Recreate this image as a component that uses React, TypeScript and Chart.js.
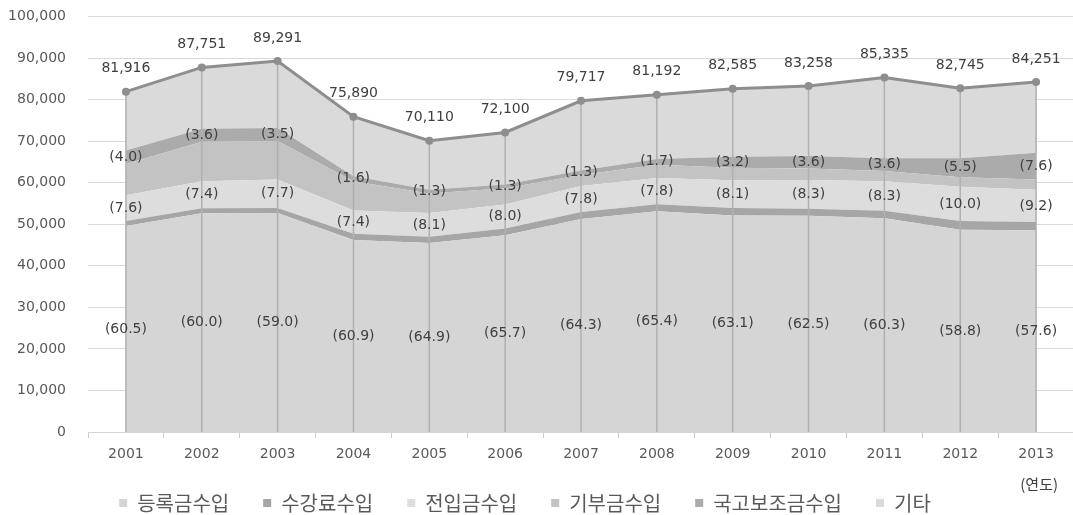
import { useEffect, useRef } from "react";
import { Chart, registerables } from "chart.js";

Chart.register(...registerables);

// 연도
const years = ["2001", "2002", "2003", "2004", "2005", "2006", "2007", "2008", "2009", "2010", "2011", "2012", "2013"];

// 총수입
const totalIncome = [81916, 87751, 89291, 75890, 70110, 72100, 79717, 81192, 82585, 83258, 85335, 82745, 84251];

// 항목별 수입
const tuitionIncome = [49559, 52651, 52682, 46217, 45501, 47370, 51258, 53100, 52111, 52036, 51457, 48654, 48529];
const lectureFeeIncome = [1200, 1200, 1200, 1500, 1500, 1600, 1700, 1700, 1800, 1700, 1800, 2100, 2000];
const transferIncome = [6226, 6494, 6875, 5616, 5679, 5768, 6218, 6333, 6689, 6910, 7083, 8275, 7751];
const donationIncome = [7500, 9500, 9300, 7000, 4700, 3900, 2700, 3200, 3000, 2800, 2500, 2300, 2500];
const subsidyIncome = [3277, 3159, 3125, 1214, 911, 937, 1036, 1380, 2643, 2997, 3072, 4551, 6403];
const otherIncome = [14154, 14747, 16109, 14343, 11819, 12525, 16805, 15479, 16342, 16815, 19423, 16865, 17068];

// 비중(%)
const tuitionShare = [60.5, 60.0, 59.0, 60.9, 64.9, 65.7, 64.3, 65.4, 63.1, 62.5, 60.3, 58.8, 57.6];
const transferShare = [7.6, 7.4, 7.7, 7.4, 8.1, 8.0, 7.8, 7.8, 8.1, 8.3, 8.3, 10.0, 9.2];
const subsidyShare = [4.0, 3.6, 3.5, 1.6, 1.3, 1.3, 1.3, 1.7, 3.2, 3.6, 3.6, 5.5, 7.6];

const yTicks = [0, 10000, 20000, 30000, 40000, 50000, 60000, 70000, 80000, 90000, 100000];

const NUM_FONT = '"DejaVu Sans", "Noto Sans", sans-serif';
const KR_FONT = '"Noto Sans CJK KR", "Noto Sans", sans-serif';

const CANVAS_W = 1106;
const CANVAS_H = 523;
const PLOT_BOTTOM = 432;
const LEGEND_FONT = 20;
const LEGEND_GAP = 34;

function area(label: string, data: number[], color: string, fill: string | boolean) {
  return {
    label,
    data,
    stack: "income",
    fill,
    backgroundColor: color,
    borderColor: color,
    borderWidth: 0,
    pointRadius: 0,
    pointHoverRadius: 0,
    tension: 0,
  };
}

// 각 연도 지점에서 바닥까지 내려오는 세로선
const dropLinePlugin = {
  id: "dropLines",
  beforeDatasetDraw(chart: any, args: any) {
    if (args.index !== 0) return;
    const meta = chart.getDatasetMeta(0);
    const { ctx, chartArea } = chart;
    ctx.save();
    ctx.strokeStyle = "#b0b0b0";
    ctx.lineWidth = 1.5;
    meta.data.forEach((pt: any) => {
      ctx.beginPath();
      ctx.moveTo(pt.x, pt.y);
      ctx.lineTo(pt.x, chartArea.bottom);
      ctx.stroke();
    });
    ctx.restore();
  },
};

// 총액 및 비중 표시
const valueLabelPlugin = {
  id: "valueLabels",
  afterDatasetsDraw(chart: any) {
    const { ctx } = chart;
    const yScale = chart.scales.y;
    ctx.save();
    ctx.font = `14px ${NUM_FONT}`;
    ctx.textAlign = "center";
    ctx.textBaseline = "middle";
    ctx.fillStyle = "#404040";

    const totalMeta = chart.getDatasetMeta(0);
    totalMeta.data.forEach((pt: any, i: number) => {
      ctx.fillText(totalIncome[i].toLocaleString("en-US"), pt.x, pt.y - 23);
    });

    const bands: [number[], number][] = [
      [tuitionShare, 1],
      [transferShare, 3],
      [subsidyShare, 5],
    ];
    bands.forEach(([shares, idx]) => {
      const top = chart.getDatasetMeta(idx).data;
      const below = idx > 1 ? chart.getDatasetMeta(idx - 1).data : null;
      top.forEach((pt: any, i: number) => {
        const bottomY = below ? below[i].y : yScale.getPixelForValue(0);
        const y = (pt.y + bottomY) / 2;
        ctx.fillText(`(${shares[i].toFixed(1)})`, pt.x, y);
      });
    });
    ctx.restore();
  },
};

// 가로축 단위
const unitPlugin = {
  id: "axisUnit",
  afterDraw(chart: any) {
    const { ctx, chartArea } = chart;
    ctx.save();
    ctx.font = `15px ${KR_FONT}`;
    ctx.fillStyle = "#404040";
    ctx.textAlign = "right";
    ctx.textBaseline = "middle";
    ctx.fillText("(연도)", chartArea.right - 16, chartArea.bottom + 52);
    ctx.restore();
  },
};

export default function App() {
  const canvasRef = useRef<HTMLCanvasElement>(null);

  useEffect(() => {
    const canvas = canvasRef.current;
    if (!canvas) return;
    const chart = new Chart(canvas, {
      type: "line",
      data: {
        labels: years,
        datasets: [
          {
            label: "총수입",
            data: totalIncome,
            stack: "total",
            fill: false,
            borderColor: "#8e8e8e",
            backgroundColor: "#8e8e8e",
            borderWidth: 3,
            pointRadius: 4,
            pointBackgroundColor: "#8e8e8e",
            pointBorderColor: "#8e8e8e",
            pointBorderWidth: 0,
            tension: 0,
          } as any,
          area("등록금수입", tuitionIncome, "#d5d5d5", "origin"),
          area("수강료수입", lectureFeeIncome, "#a6a6a6", "-1"),
          area("전입금수입", transferIncome, "#dddddd", "-1"),
          area("기부금수입", donationIncome, "#c3c3c3", "-1"),
          area("국고보조금수입", subsidyIncome, "#ababab", "-1"),
          area("기타", otherIncome, "#dadada", "-1"),
        ],
      },
      options: {
        responsive: false,
        devicePixelRatio: 1,
        animation: false,
        events: [],
        layout: { padding: { top: 16.5, right: 0, bottom: 0, left: 0 } },
        scales: {
          x: {
            type: "category",
            offset: true,
            grid: {
              offset: true,
              drawOnChartArea: false,
              drawTicks: true,
              tickLength: 6,
              color: "#cccccc",
            },
            border: { display: true, color: "#d6d6d6" },
            ticks: {
              color: "#595959",
              font: { family: NUM_FONT, size: 14 },
              padding: 8,
              maxRotation: 0,
              autoSkip: false,
            },
            afterFit: (scale: any) => {
              scale.height = CANVAS_H - PLOT_BOTTOM - (LEGEND_FONT + LEGEND_GAP + 10);
            },
          },
          y: {
            stacked: true,
            min: 0,
            max: 100000,
            afterBuildTicks: (scale: any) => {
              scale.ticks = yTicks.map((v) => ({ value: v }));
            },
            grid: { color: "#d9d9d9", drawTicks: false, lineWidth: 1 },
            border: { display: false },
            ticks: {
              color: "#595959",
              font: { family: NUM_FONT, size: 14 },
              padding: 22,
              callback: (v: any) => Number(v).toLocaleString("en-US"),
            },
            afterFit: (scale: any) => {
              scale.width = 116;
              scale.paddingTop = 0;
              scale.paddingBottom = 0;
            },
          },
        },
        plugins: {
          legend: {
            position: "bottom",
            labels: {
              boxWidth: 8,
              boxHeight: 8,
              padding: LEGEND_GAP,
              color: "#595959",
              font: { family: KR_FONT, size: LEGEND_FONT },
              filter: (item: any) => item.datasetIndex !== 0,
            },
          },
          tooltip: { enabled: false },
        },
      },
      plugins: [dropLinePlugin, valueLabelPlugin, unitPlugin],
    } as any);
    return () => chart.destroy();
  }, []);

  return (
    <div
      style={{
        position: "fixed",
        left: 0,
        top: 0,
        width: 1073,
        height: 515,
        overflow: "hidden",
        background: "#ffffff",
      }}
    >
      <canvas
        ref={canvasRef}
        width={CANVAS_W}
        height={CANVAS_H}
        style={{ position: "absolute", left: -28, top: 0, width: CANVAS_W, height: CANVAS_H }}
      />
    </div>
  );
}
